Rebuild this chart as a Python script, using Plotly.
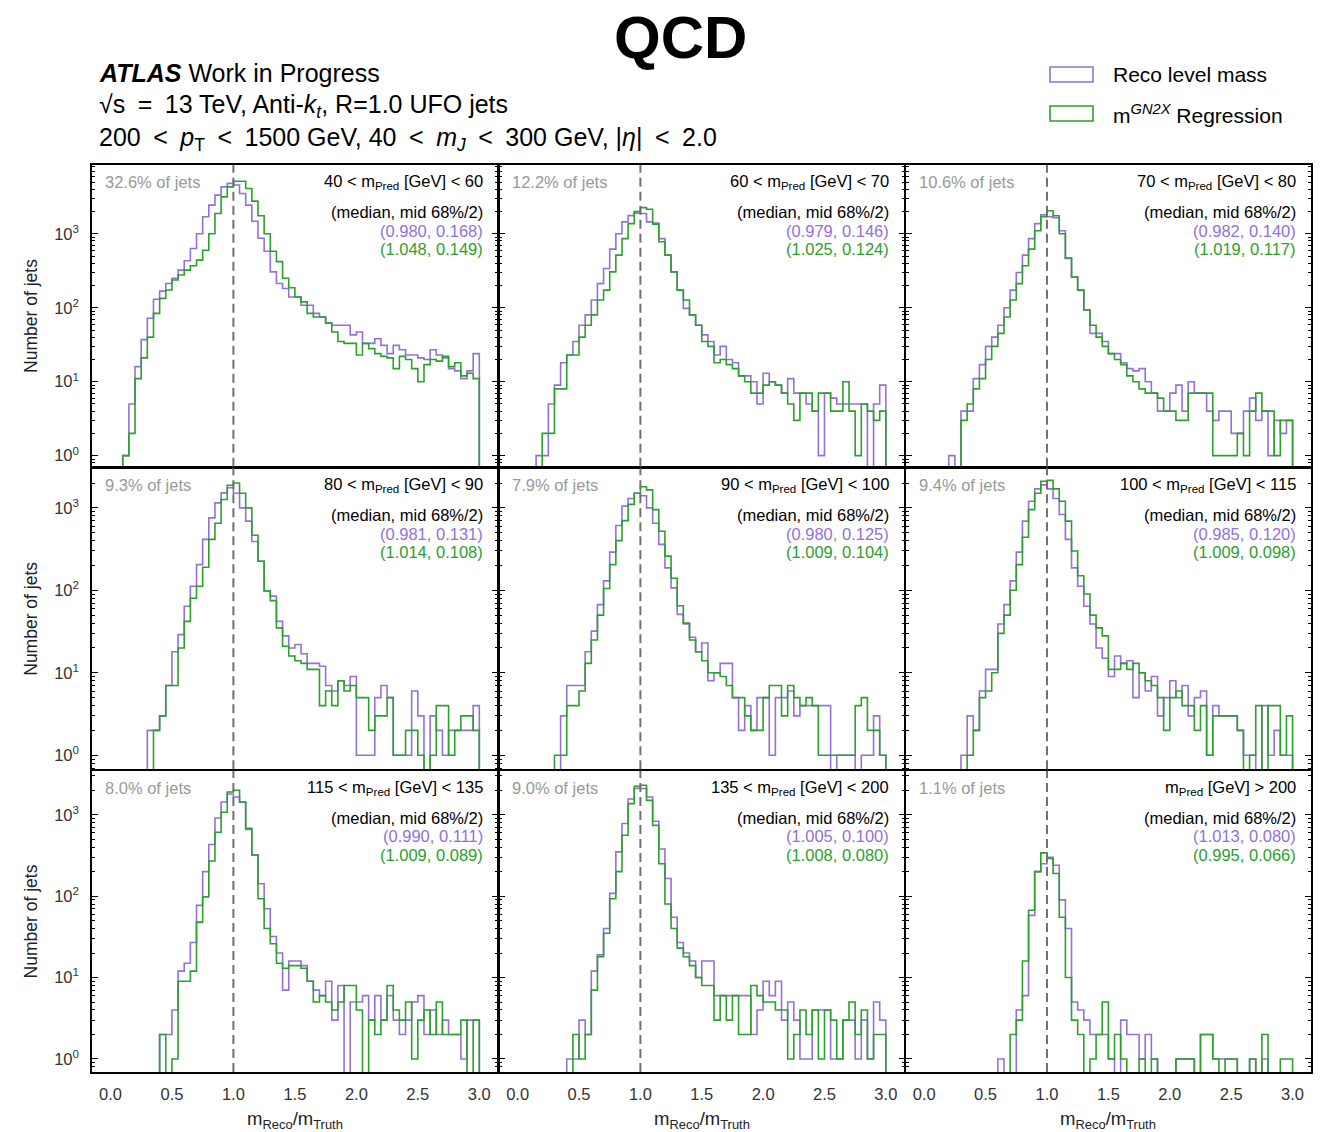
import plotly.graph_objects as go

W, H = 1322, 1132

# ---------------- data (counts per 0.05 bin of mReco/mTruth, 0.0 .. 3.0) ----------------
bin_edges = [round(0.05 * i, 2) for i in range(61)]

reco_40_60 = [0, 0, 1, 5, 16, 37, 72, 130, 168, 213, 250, 323, 431, 633, 1000, 1700, 2440, 3330, 4310, 4800,
              4560, 3510, 2440, 1480, 870, 580, 305, 213, 182, 140, 140, 108, 108, 84, 75, 62, 58, 58, 58, 43,
              47, 33, 33, 38, 31, 24, 31, 27, 23, 23, 21, 20, 27, 23, 21, 15, 14, 11, 14, 24]
gn2x_40_60 = [0, 0, 1, 2, 11, 21, 40, 84, 134, 174, 237, 277, 323, 370, 440, 600, 1000, 1880, 3160, 4310,
              5140, 5140, 4100, 2760, 1750, 1000, 580, 420, 250, 186, 140, 120, 84, 75, 75, 62, 47, 35, 33, 33,
              23, 33, 28, 24, 22, 21, 15, 22, 20, 15, 10, 17, 20, 19, 22, 16, 18, 12, 13, 11]

reco_60_70 = [0, 0, 0, 1, 1, 5, 9, 18, 23, 35, 58, 80, 127, 212, 340, 620, 1000, 1450, 1760, 1900,
              1880, 1450, 1400, 860, 515, 305, 173, 98, 80, 58, 43, 35, 23, 30, 20, 18, 12, 12, 10, 5,
              13, 10, 9, 7, 11, 7, 7, 5, 4, 1, 7, 6, 5, 5, 5, 5, 5, 0, 5, 9]
gn2x_60_70 = [0, 0, 0, 0, 2, 2, 8, 8, 23, 23, 40, 58, 80, 127, 173, 305, 515, 860, 1370, 2000,
              2260, 2150, 1350, 780, 515, 305, 173, 127, 80, 58, 35, 30, 18, 20, 17, 15, 12, 10, 7, 7,
              9, 10, 9, 7, 5, 3, 7, 7, 4, 7, 7, 4, 4, 10, 4, 1, 5, 4, 3, 4]

reco_70_80 = [0, 0, 0, 0, 1, 0, 4, 4, 11, 17, 30, 40, 58, 100, 173, 300, 515, 860, 1370, 1800,
              1700, 1650, 1100, 465, 260, 173, 93, 45, 45, 35, 24, 24, 18, 15, 14, 15, 10, 7, 4, 4,
              7, 9, 4, 10, 7, 7, 4, 3, 4, 4, 2, 2, 4, 6, 3, 4, 1, 3, 2, 3]
gn2x_70_80 = [0, 0, 0, 0, 0, 0, 3, 5, 8, 11, 20, 30, 45, 75, 127, 212, 370, 620, 1100, 1700,
              2050, 1750, 1000, 470, 260, 173, 93, 58, 40, 30, 24, 20, 17, 12, 10, 8, 7, 7, 6, 4,
              4, 3, 3, 7, 7, 7, 7, 1, 1, 1, 1, 2, 1, 4, 7, 4, 4, 1, 3, 3]

reco_80_90 = [0, 0, 0, 0, 0, 0, 2, 2, 3, 7, 18, 29, 64, 112, 205, 415, 755, 1150, 1520, 1750,
              1500, 1000, 690, 390, 225, 98, 85, 42, 28, 20, 22, 17, 13, 13, 12, 7, 6, 8, 7, 9,
              1, 1, 1, 5, 7, 5, 1, 1, 1, 6, 3, 0, 3, 2, 1, 2, 2, 2, 2, 4]
gn2x_80_90 = [0, 0, 0, 0, 0, 0, 0, 2, 3, 7, 7, 20, 42, 80, 112, 190, 415, 650, 1260, 1880,
              2000, 1500, 1000, 465, 225, 98, 75, 35, 21, 16, 14, 13, 11, 11, 4, 6, 4, 8, 6, 7,
              5, 5, 2, 3, 3, 5, 1, 1, 2, 2, 1, 0, 1, 4, 4, 1, 2, 3, 3, 2]

reco_90_100 = [0, 0, 0, 0, 0, 0, 0, 3, 7, 7, 7, 18, 32, 67, 130, 290, 610, 1050, 1300, 1500,
               1400, 1000, 650, 360, 187, 107, 51, 39, 27, 18, 23, 8, 10, 13, 13, 5, 2, 4, 2, 5,
               5, 1, 5, 5, 6, 3, 4, 4, 4, 4, 4, 0, 1, 1, 1, 0, 1, 1, 3, 1]
gn2x_90_100 = [0, 0, 0, 0, 0, 0, 1, 1, 4, 4, 6, 13, 25, 50, 105, 205, 400, 700, 1100, 1500,
               1800, 1650, 950, 520, 260, 140, 65, 40, 25, 18, 14, 10, 10, 9, 7, 5, 5, 3, 2, 2,
               5, 7, 7, 3, 7, 5, 4, 5, 4, 1, 1, 1, 1, 1, 1, 4, 5, 2, 2, 1]

reco_100_115 = [0, 0, 0, 0, 0, 0, 1, 3, 2, 6, 11, 11, 39, 67, 130, 290, 690, 1200, 1700, 1900,
                1700, 1300, 830, 415, 187, 112, 64, 39, 20, 15, 9, 16, 13, 14, 5, 10, 6, 9, 3, 5,
                8, 5, 7, 3, 5, 6, 1, 4, 3, 3, 3, 2, 1, 1, 0, 4, 1, 2, 1, 1]
gn2x_100_115 = [0, 0, 0, 0, 0, 0, 0, 1, 2, 5, 6, 10, 30, 50, 100, 205, 440, 950, 1500, 2100,
                2150, 1700, 1200, 690, 300, 150, 90, 50, 35, 28, 11, 11, 13, 11, 13, 10, 8, 7, 5, 2,
                5, 6, 4, 4, 2, 4, 1, 3, 3, 3, 3, 2, 0, 1, 4, 0, 4, 4, 1, 3]

reco_115_135 = [0, 0, 0, 0, 0, 0, 0, 0, 2, 2, 4, 12, 15, 27, 77, 200, 430, 910, 1430, 1800,
                1650, 1430, 660, 320, 142, 70, 32, 20, 7, 16, 16, 14, 9, 7, 6, 9, 3, 8, 0, 5,
                5, 6, 3, 6, 3, 6, 3, 2, 3, 5, 6, 2, 4, 2, 3, 2, 2, 1, 3, 3]
gn2x_115_135 = [0, 0, 0, 0, 0, 0, 0, 0, 2, 0, 1, 9, 9, 12, 48, 98, 270, 610, 1070, 1900,
                2000, 1430, 680, 320, 93, 40, 26, 15, 13, 14, 14, 13, 9, 5, 6, 5, 4, 5, 8, 8,
                4, 0, 3, 2, 3, 8, 4, 3, 5, 1, 3, 4, 2, 5, 2, 2, 2, 3, 0, 3]

reco_135_200 = [0, 0, 0, 0, 0, 0, 0, 0, 1, 1, 3, 2, 12, 19, 40, 108, 350, 780, 1560, 2100,
                2100, 1650, 830, 380, 165, 55, 27, 20, 16, 10, 16, 16, 6, 6, 6, 6, 6, 6, 2, 4,
                9, 6, 9, 3, 5, 3, 1, 1, 4, 4, 4, 1, 1, 3, 3, 1, 3, 1, 5, 3]
gn2x_135_200 = [0, 0, 0, 0, 0, 0, 0, 0, 0, 2, 1, 2, 7, 18, 35, 93, 200, 560, 1370, 2230,
                2300, 1500, 740, 250, 80, 40, 23, 18, 14, 10, 8, 8, 3, 6, 3, 6, 2, 2, 8, 6,
                5, 5, 4, 4, 1, 2, 4, 2, 4, 1, 4, 3, 1, 3, 5, 2, 4, 1, 2, 2]

reco_200_up = [0, 0, 0, 0, 0, 0, 0, 0, 0, 0, 0, 0, 1, 0, 0, 4, 6, 58, 200, 250,
               300, 240, 90, 40, 5, 4, 3, 2, 2, 2, 1, 0, 3, 2, 2, 1, 2, 1, 0, 0,
               0, 1, 1, 1, 0, 2, 2, 1, 1, 1, 1, 0, 0, 1, 0, 1, 0, 0, 0, 0]
gn2x_200_up = [0, 0, 0, 0, 0, 0, 0, 0, 0, 0, 0, 0, 0, 0, 2, 3, 16, 67, 200, 340,
               290, 190, 55, 10, 3, 2, 0, 1, 2, 5, 1, 2, 1, 0, 0, 1, 0, 1, 0, 0,
               0, 1, 1, 1, 0, 2, 2, 1, 0, 1, 1, 0, 0, 1, 0, 2, 0, 0, 1, 1]

panel_titles = ["40 < m<sub>Pred</sub> [GeV] < 60", "60 < m<sub>Pred</sub> [GeV] < 70",
                "70 < m<sub>Pred</sub> [GeV] < 80", "80 < m<sub>Pred</sub> [GeV] < 90",
                "90 < m<sub>Pred</sub> [GeV] < 100", "100 < m<sub>Pred</sub> [GeV] < 115",
                "115 < m<sub>Pred</sub> [GeV] < 135", "135 < m<sub>Pred</sub> [GeV] < 200",
                "m<sub>Pred</sub> [GeV] > 200"]
jet_fractions = ["32.6%", "12.2%", "10.6%", "9.3%", "7.9%", "9.4%", "8.0%", "9.0%", "1.1%"]
reco_stats = ["(0.980, 0.168)", "(0.979, 0.146)", "(0.982, 0.140)", "(0.981, 0.131)", "(0.980, 0.125)",
              "(0.985, 0.120)", "(0.990, 0.111)", "(1.005, 0.100)", "(1.013, 0.080)"]
gn2x_stats = ["(1.048, 0.149)", "(1.025, 0.124)", "(1.019, 0.117)", "(1.014, 0.108)", "(1.009, 0.104)",
              "(1.009, 0.098)", "(1.009, 0.089)", "(1.008, 0.080)", "(0.995, 0.066)"]
x_ticks = [0.0, 0.5, 1.0, 1.5, 2.0, 2.5, 3.0]
x_tick_text = ["0.0", "0.5", "1.0", "1.5", "2.0", "2.5", "3.0"]
y_ticks = [1, 10, 100, 1000]
y_tick_text = ["10<sup>0</sup>", "10<sup>1</sup>", "10<sup>2</sup>", "10<sup>3</sup>"]

reco_sets = [reco_40_60, reco_60_70, reco_70_80, reco_80_90, reco_90_100, reco_100_115,
             reco_115_135, reco_135_200, reco_200_up]
gn2x_sets = [gn2x_40_60, gn2x_60_70, gn2x_70_80, gn2x_80_90, gn2x_90_100, gn2x_100_115,
             gn2x_115_135, gn2x_135_200, gn2x_200_up]

# ---------------- styling / layout ----------------
FONT = "Liberation Sans, Arial, sans-serif"
PURPLE = "#9370DB"
GREEN = "#2ca02c"
LW = 1.5
# panel pixel boxes; adjacent panels separated by one line width so the frames coincide
col_left = [92, 92 + 406.5 + LW / 2, 92 + 2 * 406.5 + LW / 2]
col_right = [92 + 406.5 - LW / 2, 92 + 2 * 406.5 - LW / 2, 1311]
row_top = [165, 165 + 302.5 + LW / 2, 165 + 2 * 302.5 + LW / 2]
row_bot = [165 + 302.5 - LW / 2, 165 + 2 * 302.5 - LW / 2, 1072]
row_yrange = [[-0.15, 3.93], [-0.17, 3.48], [-0.16, 3.54]]
FLOOR = 1e-3
SP = "\u2002"  # en space, mimics mathtext spacing


def px(x):
    return x / W


def py(y):
    return 1 - y / H


minor_vals = [m * 10 ** e for e in range(-1, 4) for m in range(2, 10)]

fig = go.Figure()
layout = dict(width=W, height=H, autosize=False, margin=dict(l=0, r=0, t=0, b=0),
              paper_bgcolor="white", plot_bgcolor="white", showlegend=False,
              font=dict(family=FONT, color="#222"))
annotations = []
shapes = []


def step_xy(vals):
    ys = [v if v > 0 else FLOOR for v in vals]
    xs = [bin_edges[0]] + bin_edges[:60] + [bin_edges[60]]
    return xs, [FLOOR] + ys + [FLOOR]


for i in range(9):
    r, c = divmod(i, 3)
    n = i + 1
    xa = "x" if n == 1 else f"x{n}"
    ya = "y" if n == 1 else f"y{n}"
    xk = "xaxis" if n == 1 else f"xaxis{n}"
    yk = "yaxis" if n == 1 else f"yaxis{n}"
    layout[xk] = dict(domain=[px(col_left[c]), px(col_right[c])], range=[-0.15, 3.15],
                      anchor=ya, showgrid=False, zeroline=False, showline=True, mirror=True,
                      linecolor="black", linewidth=LW, ticks="",
                      tickmode="array", tickvals=x_ticks, ticktext=x_tick_text,
                      showticklabels=(r == 2), tickfont=dict(size=16.5, color="#333"),
                      ticklabelstandoff=6)
    layout[yk] = dict(domain=[py(row_bot[r]), py(row_top[r])], type="log",
                      range=row_yrange[r], anchor=xa, showgrid=False, zeroline=False,
                      showline=True, mirror="ticks", linecolor="black", linewidth=LW,
                      ticks="inside", ticklen=6, tickwidth=1, tickcolor="black",
                      tickmode="array", tickvals=y_ticks, ticktext=y_tick_text,
                      showticklabels=(c == 0), tickfont=dict(size=16.5, color="#333"),
                      ticklabelstandoff=8,
                      minor=dict(tickmode="array", tickvals=minor_vals, ticks="inside",
                                 ticklen=3, tickwidth=1, tickcolor="black", showgrid=False))

    for vals, col in ((reco_sets[i], PURPLE), (gn2x_sets[i], GREEN)):
        xs, ys = step_xy(vals)
        fig.add_trace(go.Scatter(x=xs, y=ys, mode="lines", line=dict(color=col, width=1.6, shape="hv"),
                                 xaxis=xa, yaxis=ya, hoverinfo="skip"))

    shapes.append(dict(type="line", xref=xa, yref=f"{ya} domain", x0=1.0, x1=1.0, y0=0, y1=1,
                       line=dict(color="#707070", width=2, dash="9px,5px")))

    top = row_top[r]
    left = col_left[c]
    right = col_right[c]
    fs = 16.5
    annotations.append(dict(x=px(left + 11), y=py(top + 17), xref="paper", yref="paper",
                            text=f"{jet_fractions[i]} of jets", showarrow=False, xanchor="left",
                            yanchor="middle", font=dict(size=fs, color="#999999", family=FONT)))
    annotations.append(dict(x=px(right - 13), y=py(top + 17), xref="paper", yref="paper",
                            text=panel_titles[i], showarrow=False, xanchor="right", yanchor="middle",
                            font=dict(size=fs, color="black", family=FONT)))
    annotations.append(dict(x=px(right - 13), y=py(top + 47), xref="paper", yref="paper",
                            text="(median, mid 68%/2)", showarrow=False, xanchor="right",
                            yanchor="middle", font=dict(size=fs, color="black", family=FONT)))
    annotations.append(dict(x=px(right - 13), y=py(top + 65.5), xref="paper", yref="paper",
                            text=reco_stats[i], showarrow=False, xanchor="right", yanchor="middle",
                            font=dict(size=fs, color=PURPLE, family=FONT)))
    annotations.append(dict(x=px(right - 13), y=py(top + 84), xref="paper", yref="paper",
                            text=gn2x_stats[i], showarrow=False, xanchor="right", yanchor="middle",
                            font=dict(size=fs, color=GREEN, family=FONT)))

# axis titles
for r in range(3):
    annotations.append(dict(x=px(31), y=py((row_top[r] + row_bot[r]) / 2), xref="paper",
                            yref="paper", text="Number of jets", textangle=-90, showarrow=False,
                            xanchor="center", yanchor="middle", font=dict(size=17.5, color="#222", family=FONT)))
for c in range(3):
    annotations.append(dict(x=px((col_left[c] + col_right[c]) / 2), y=py(1120), xref="paper",
                            yref="paper", text="m<sub>Reco</sub>/m<sub>Truth</sub>", showarrow=False,
                            xanchor="center", yanchor="middle", font=dict(size=18.5, color="#222", family=FONT)))

# header
annotations.append(dict(x=px(680), y=py(37), xref="paper", yref="paper", text="<b>QCD</b>",
                        showarrow=False, xanchor="center", yanchor="middle",
                        font=dict(size=60, color="black", family=FONT)))
annotations.append(dict(x=px(97), y=py(73), xref="paper", yref="paper",
                        text="<b><i>ATLAS</i></b> Work in Progress", showarrow=False,
                        xanchor="left", yanchor="middle", font=dict(size=25, color="black", family=FONT)))
annotations.append(dict(x=px(97), y=py(106), xref="paper", yref="paper",
                        text=f"√s{SP}={SP}13 TeV, Anti-<i>k<sub>t</sub></i>, R=1.0 UFO jets", showarrow=False,
                        xanchor="left", yanchor="middle", font=dict(size=25, color="black", family=FONT)))
annotations.append(dict(x=px(97), y=py(139), xref="paper", yref="paper",
                        text=(f"200{SP}<{SP}<i>p</i><sub>T</sub>{SP}<{SP}1500 GeV, 40{SP}<{SP}<i>m<sub>J</sub></i>"
                              f"{SP}<{SP}300 GeV, |<i>η</i>|{SP}<{SP}2.0"),
                        showarrow=False, xanchor="left", yanchor="middle",
                        font=dict(size=25, color="black", family=FONT)))

# legend
for (y0, y1, col, label) in ((67, 82, PURPLE, "Reco level mass"),
                             (106, 121, GREEN, "m<sup><i>GN2X</i></sup> Regression")):
    shapes.append(dict(type="rect", xref="paper", yref="paper", x0=px(1050), x1=px(1093),
                       y0=py(y1), y1=py(y0), line=dict(color=col, width=1.6), fillcolor="rgba(0,0,0,0)"))
    annotations.append(dict(x=px(1111), y=py((y0 + y1) / 2), xref="paper", yref="paper", text=label,
                            showarrow=False, xanchor="left", yanchor="middle",
                            font=dict(size=21, color="black", family=FONT)))

layout["annotations"] = annotations
layout["shapes"] = shapes
fig.update_layout(**layout)
fig.write_html("out.html")
